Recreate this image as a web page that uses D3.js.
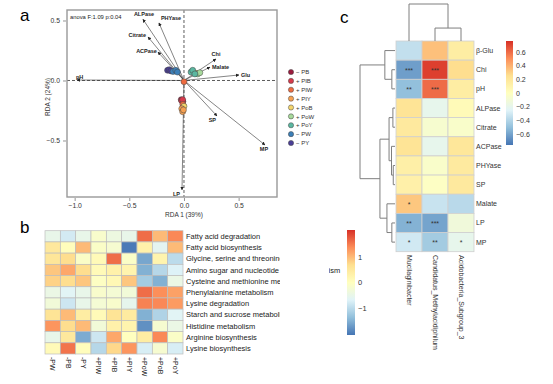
<!DOCTYPE html>
<html>
<head>
<meta charset="utf-8">
<script src="https://cdn.jsdelivr.net/npm/d3@7"></script>
<style>
  body { margin: 0; background: #fff; }
  text { font-family: "Liberation Sans", Arial, sans-serif; }
</style>
</head>
<body>
<script>
// ---------- panel a data (RDA) ----------
const groups = ['-PB', '+PIB', '+PIW', '+PIY', '+PoB', '+PoW', '+PoY', '-PW', '-PY'];
const groupLabels = ['\u2212 PB', '+ PIB', '+ PIW', '+ PIY', '+ PoB', '+ PoW', '+ PoY', '\u2212 PW', '\u2212 PY'];
const groupColors = ['#9b1b3e', '#d83a4b', '#ee6b40', '#f6a152', '#f3d56c', '#a7d99b', '#5bb7a0', '#3b7fb8', '#4a3e97'];

const sampleGroup = ['-PY', '-PY', '-PY', '-PW', '-PW', '-PW', '+PoB', '+PoW', '+PoW', '+PoY', '+PoY', '+PoY',
                     '-PB', '-PB', '+PIB', '+PIB', '+PIW', '+PoB', '+PIY', '+PIY', '+PIY', '+PIW'];
const sampleRDA1 = [-0.15, -0.135, -0.12, -0.1, -0.075, -0.06, 0.11, 0.125, 0.145, 0.065, 0.08, 0.1,
                    -0.025, -0.01, -0.02, -0.012, -0.01, 0.0, -0.02, -0.012, -0.005, 0.0];
const sampleRDA2 = [0.085, 0.09, 0.08, 0.075, 0.085, 0.07, 0.06, 0.055, 0.065, 0.07, 0.085, 0.055,
                    -0.16, -0.175, -0.17, -0.16, -0.2, -0.215, -0.235, -0.26, -0.245, -0.01];

const envVars = ['ALPase', 'PHYase', 'Citrate', 'ACPase', 'pH', 'Chi', 'Malate', 'Glu', 'SP', 'MP', 'LP'];
const envRDA1 = [-0.375, -0.229, -0.329, -0.238, -0.979, 0.293, 0.238, 0.503, 0.302, 0.741, -0.018];
const envRDA2 = [0.51, 0.48, 0.363, 0.237, 0.004, 0.179, 0.112, 0.046, -0.296, -0.537, -0.912];

const xTicks = [-1.0, -0.5, 0.0, 0.5];
const yTicks = [-0.5, 0.0, 0.5];

// ---------- panel b data (KEGG pathway z-scores) ----------
const pathways = ['Fatty acid degradation', 'Fatty acid biosynthesis', 'Glycine, serine and threonine metabolism',
  'Amino sugar and nucleotide sugar metabolism', 'Cysteine and methionine metabolism', 'Phenylalanine metabolism',
  'Lysine degradation', 'Starch and sucrose metabolism', 'Histidine metabolism', 'Arginine biosynthesis',
  'Lysine biosynthesis'];
const treatments = ['-PW', '-PB', '-PY', '+PIW', '+PIB', '+PIY', '+PoW', '+PoB', '+PoY'];
const pathwayZ = [
  [-0.5, -0.8, -0.5, -0.15, -0.4, -0.5, 1.6, 1.0, 1.4],
  [0.5, 0.05, 1.0, -0.1, -0.2, -2.0, 0.3, -0.6, 1.0],
  [0.55, 0.7, -0.1, 0.1, 1.6, -0.1, -1.6, 0.25, -1.0],
  [0.9, 1.15, 0.7, 0.1, 0.3, 0.25, -1.5, -1.05, -0.7],
  [0.8, 0.7, 0.9, -0.05, 0.15, 0.9, -1.2, -1.5, -0.45],
  [-0.45, -0.65, -0.5, -0.15, -0.25, -0.3, 1.6, 1.35, 1.2],
  [-0.3, -0.85, -0.5, -0.25, -0.15, -0.55, 1.45, 1.4, 1.25],
  [0.6, 1.0, 0.4, 0.1, 0.6, 0.45, -1.5, -1.1, -0.65],
  [1.3, 0.7, 1.0, -0.3, 0.3, 0.25, -1.8, -0.2, -0.45],
  [-0.5, 0.5, -1.55, -0.85, 1.15, 0.0, 0.4, 1.4, -0.1],
  [0.1, 1.55, 0.05, -1.05, 0.75, 1.3, -0.75, -0.2, -0.75]
];
const bLegendTicks = [-1, 0, 1];

// ---------- panel c data (correlations) ----------
const soilVars = ['\u03b2-Glu', 'Chi', 'pH', 'ALPase', 'Citrate', 'ACPase', 'PHYase', 'SP', 'Malate', 'LP', 'MP'];
const genera = ['Mucilaginibacter', 'Candidatus_Methylacidiphilum', 'Acidobacteria_Subgroup_3'];
const corr = [
  [-0.35, 0.35, 0.15],
  [-0.62, 0.72, 0.26],
  [-0.5, 0.6, 0.15],
  [0.22, -0.2, 0.04],
  [0.18, -0.07, -0.05],
  [0.22, -0.2, 0.2],
  [0.13, -0.05, 0.17],
  [0.12, -0.02, 0.18],
  [0.33, -0.33, -0.38],
  [-0.55, -0.6, -0.12],
  [-0.3, -0.45, -0.2]
];
const stars = [
  ['', '', ''], ['***', '***', ''], ['**', '***', ''], ['', '', ''], ['', '', ''], ['', '', ''],
  ['', '', ''], ['', '', ''], ['*', '', ''], ['**', '***', ''], ['*', '**', '*']
];
const cLegendTicks = [-0.6, -0.4, -0.2, 0, 0.2, 0.4, 0.6];
// clustering (merge heights, 0..1)
const rowTree = { h: 1, children: [
  { h: 0.29, children: ['\u03b2-Glu', { h: 0.09, children: ['Chi', 'pH'] }] },
  { h: 0.43, children: [
    { h: 0.17, children: [{ h: 0.06, children: ['ALPase', 'Citrate'] },
                          { h: 0.1, children: ['ACPase', { h: 0.05, children: ['PHYase', 'SP'] }] }] },
    { h: 0.23, children: ['Malate', { h: 0.09, children: ['LP', 'MP'] }] }
  ] }
] };
const colTree = { h: 1, children: ['Mucilaginibacter',
  { h: 0.35, children: ['Candidatus_Methylacidiphilum', 'Acidobacteria_Subgroup_3'] }] };

const palette = ['#4575B4', '#91BFDB', '#E0F3F8', '#FFFFBF', '#FEE090', '#FC8D59', '#D73027'];

const svg = d3.select('body').append('svg')
    .attr('width', 553)
    .attr('height', 384);

// =============== panel a ===============
(() => {
    const x = d3.scaleLinear().domain([-1.07, 0.851]).range([67, 277]);
    const y = d3.scaleLinear().domain([-0.971, 0.5875]).range([197, 10]);
    const g = svg.append('g');

    svg.append('text').attr('x', 20).attr('y', 21).attr('font-size', 17).text('a');

    const defs = svg.append('defs');
    defs.append('marker')
        .attr('id', 'arr')
        .attr('viewBox', '0 0 10 10')
        .attr('refX', 9).attr('refY', 5)
        .attr('markerWidth', 3.5).attr('markerHeight', 3.5)
        .attr('markerUnits', 'userSpaceOnUse')
        .attr('orient', 'auto')
        .append('path').attr('d', 'M0,0L10,5L0,10z').attr('fill', '#222');

    // dashed zero lines
    g.append('line').attr('x1', x(0)).attr('x2', x(0)).attr('y1', 10).attr('y2', 197)
        .attr('stroke', '#333').attr('stroke-width', 0.8).attr('stroke-dasharray', '3,2');
    g.append('line').attr('x1', 67).attr('x2', 277).attr('y1', y(0)).attr('y2', y(0))
        .attr('stroke', '#333').attr('stroke-width', 0.8).attr('stroke-dasharray', '3,2');

    // env arrows
    const labelPos = {
        ALPase: [1, -3, 'middle'], PHYase: [2, -3, 'start'], Citrate: [-2, 0, 'end'],
        ACPase: [-1, 1, 'end'], pH: [-1, -1, 'start'], Chi: [0, -3, 'middle'],
        Malate: [2, 2, 'start'], Glu: [2, 2.5, 'start'], SP: [-1, 6, 'end'],
        MP: [-1, 6, 'middle'], LP: [-2, 6, 'end']
    };
    envVars.forEach((v, i) => {
        g.append('line')
            .attr('x1', x(0)).attr('y1', y(0))
            .attr('x2', x(envRDA1[i])).attr('y2', y(envRDA2[i]))
            .attr('stroke', '#333').attr('stroke-width', 0.6)
            .attr('marker-end', 'url(#arr)');
        const p = labelPos[v];
        g.append('text')
            .attr('x', x(envRDA1[i]) + p[0]).attr('y', y(envRDA2[i]) + p[1])
            .attr('text-anchor', p[2])
            .attr('font-size', 5.5).attr('font-weight', 'bold').attr('fill', '#222')
            .text(v);
    });

    // samples
    const col = d3.scaleOrdinal().domain(groups).range(groupColors);
    g.selectAll('circle.s')
        .data(sampleGroup)
        .enter()
        .append('circle')
        .attr('class', 's')
        .attr('cx', (d, i) => x(sampleRDA1[i]))
        .attr('cy', (d, i) => y(sampleRDA2[i]))
        .attr('r', 3)
        .attr('fill', d => col(d))
        .attr('stroke', '#444').attr('stroke-width', 0.5);

    g.append('text').attr('x', 70).attr('y', 19).attr('font-size', 5.8).attr('fill', '#222')
        .text('anova F:1.09 p:0.04');

    // frame
    g.append('rect').attr('x', 67).attr('y', 10).attr('width', 210).attr('height', 187)
        .attr('fill', 'none').attr('stroke', '#999').attr('stroke-width', 1.4);

    const xAxis = d3.axisBottom(x).tickValues(xTicks).tickFormat(d3.format('.1f')).tickSize(3);
    const yAxis = d3.axisLeft(y).tickValues(yTicks).tickFormat(d3.format('.1f')).tickSize(3);
    const xg = g.append('g').attr('transform', 'translate(0,198)').call(xAxis);
    const yg = g.append('g').attr('transform', 'translate(66,0)').call(yAxis);
    [xg, yg].forEach(a => {
        a.select('.domain').remove();
        a.selectAll('line').attr('stroke', '#666').attr('stroke-width', 0.7);
        a.selectAll('text').attr('font-size', 6.8).attr('fill', '#333').attr('font-family', 'Liberation Sans, Arial, sans-serif');
    });
    xg.selectAll('text').attr('dy', '0.6em');

    g.append('text').attr('x', x(0)).attr('y', 217).attr('text-anchor', 'middle')
        .attr('font-size', 6.5).attr('fill', '#333').text('RDA 1 (39%)');
    g.append('text').attr('transform', 'translate(50,97) rotate(-90)').attr('text-anchor', 'middle')
        .attr('font-size', 6.5).attr('fill', '#333').text('RDA 2 (24%)');

    // legend
    const lg = svg.append('g');
    const ly = d3.scalePoint().domain(groups).range([72, 143]);
    groups.forEach((k, i) => {
        lg.append('circle').attr('cx', 291).attr('cy', ly(k)).attr('r', 2.6)
            .attr('fill', groupColors[i]).attr('stroke', '#444').attr('stroke-width', 0.5);
        lg.append('text').attr('x', 296).attr('y', ly(k) + 2.2)
            .attr('font-size', 6).attr('fill', '#333').text(groupLabels[i]);
    });
})();

// =============== panel b ===============
(() => {
    svg.append('text').attr('x', 20).attr('y', 233).attr('font-size', 17).text('b');
    const x = d3.scaleBand().domain(treatments).range([45, 183]);
    const y = d3.scaleBand().domain(pathways).range([230.7, 354]);
    const color = d3.scaleLinear()
        .domain(d3.range(7).map(i => -2.05 + i * 4.1 / 6))
        .range(palette);
    const g = svg.append('g');
    pathways.forEach((p, r) => {
        treatments.forEach((t, c) => {
            g.append('rect')
                .attr('x', x(t)).attr('y', y(p))
                .attr('width', x.bandwidth()).attr('height', y.bandwidth())
                .attr('fill', color(pathwayZ[r][c]))
                .attr('stroke', '#bdbdbd').attr('stroke-width', 0.7);
        });
        g.append('text').attr('x', 186).attr('y', y(p) + y.bandwidth() / 2 + 2.6)
            .attr('font-size', 7.5).attr('fill', '#222').text(p);
    });
    treatments.forEach(t => {
        g.append('text')
            .attr('transform', `translate(${x(t) + x.bandwidth() / 2 - 2.5},357) rotate(90)`)
            .attr('font-size', 7).attr('fill', '#222').text(t);
    });

    // panel c area covers the long labels
    svg.append('rect').attr('x', 280).attr('y', 222).attr('width', 49).attr('height', 162).attr('fill', '#fff');

    // colour key
    const ky = d3.scaleLinear().domain([-2.05, 2.05]).range([335, 230]);
    const grad = svg.append('defs').append('linearGradient').attr('id', 'gb')
        .attr('x1', 0).attr('y1', 1).attr('x2', 0).attr('y2', 0);
    palette.forEach((c, i) => grad.append('stop').attr('offset', i / 6).attr('stop-color', c));
    svg.append('rect').attr('x', 347).attr('y', 230).attr('width', 8).attr('height', 105).attr('fill', 'url(#gb)');
    const kg = svg.append('g').attr('transform', 'translate(355,0)')
        .call(d3.axisRight(ky).tickValues(bLegendTicks).tickFormat(d3.format('d')).tickSize(0));
    kg.select('.domain').remove();
    kg.selectAll('text').attr('font-size', 7.5).attr('fill', '#333').attr('x', 3)
        .attr('font-family', 'Liberation Sans, Arial, sans-serif');
})();

// =============== panel c ===============
(() => {
    svg.append('text').attr('x', 340).attr('y', 23).attr('font-size', 17).text('c');
    const x = d3.scaleBand().domain(genera).range([396, 474]);
    const y = d3.scaleBand().domain(soilVars).range([41, 251.7]);
    const color = d3.scaleLinear()
        .domain(d3.range(7).map(i => -0.76 + i * 1.52 / 6))
        .range(palette);
    const g = svg.append('g');
    soilVars.forEach((s, r) => {
        genera.forEach((gname, c) => {
            g.append('rect')
                .attr('x', x(gname)).attr('y', y(s))
                .attr('width', x.bandwidth()).attr('height', y.bandwidth())
                .attr('fill', color(corr[r][c]))
                .attr('stroke', '#cfcfcf').attr('stroke-width', 0.8);
            if (stars[r][c]) {
                g.append('text')
                    .attr('x', x(gname) + x.bandwidth() / 2).attr('y', y(s) + y.bandwidth() / 2 + 3)
                    .attr('text-anchor', 'middle').attr('font-size', 7).attr('fill', '#333')
                    .text(stars[r][c]);
            }
        });
        g.append('text').attr('x', 476).attr('y', y(s) + y.bandwidth() / 2 + 2.5)
            .attr('font-size', 7).attr('fill', '#333').text(s);
    });
    genera.forEach(gname => {
        g.append('text')
            .attr('transform', `translate(${x(gname) + x.bandwidth() / 2 - 2.5},255) rotate(90)`)
            .attr('font-size', 7).attr('fill', '#333').text(gname);
    });

    // dendrograms
    const rowH = d3.scaleLinear().domain([0, 1]).range([395, 360]);
    const colH = d3.scaleLinear().domain([0, 1]).range([41, 4]);
    const dg = svg.append('g').attr('stroke', '#7f7f7f').attr('stroke-width', 1).attr('fill', 'none');
    function drawRow(node) {
        if (typeof node === 'string') return { pos: y(node) + y.bandwidth() / 2, h: 0 };
        const kids = node.children.map(drawRow);
        const xh = rowH(node.h);
        kids.forEach(k => dg.append('path').attr('d', `M${rowH(k.h)},${k.pos}H${xh}`));
        dg.append('path').attr('d', `M${xh},${kids[0].pos}V${kids[1].pos}`);
        return { pos: (kids[0].pos + kids[1].pos) / 2, h: node.h };
    }
    function drawCol(node) {
        if (typeof node === 'string') return { pos: x(node) + x.bandwidth() / 2, h: 0 };
        const kids = node.children.map(drawCol);
        const yh = colH(node.h);
        kids.forEach(k => dg.append('path').attr('d', `M${k.pos},${colH(k.h)}V${yh}`));
        dg.append('path').attr('d', `M${kids[0].pos},${yh}H${kids[1].pos}`);
        return { pos: (kids[0].pos + kids[1].pos) / 2, h: node.h };
    }
    drawRow(rowTree);
    drawCol(colTree);

    // colour key
    const ky = d3.scaleLinear().domain([-0.76, 0.76]).range([145, 41]);
    const grad = svg.append('defs').append('linearGradient').attr('id', 'gc')
        .attr('x1', 0).attr('y1', 1).attr('x2', 0).attr('y2', 0);
    palette.forEach((c, i) => grad.append('stop').attr('offset', i / 6).attr('stop-color', c));
    svg.append('rect').attr('x', 506).attr('y', 41).attr('width', 7).attr('height', 104).attr('fill', 'url(#gc)');
    const kg = svg.append('g').attr('transform', 'translate(513,0)')
        .call(d3.axisRight(ky).tickValues(cLegendTicks).tickFormat(d => d === 0 ? '0' : d3.format('.1f')(d)).tickSize(0));
    kg.select('.domain').remove();
    kg.selectAll('text').attr('font-size', 7).attr('fill', '#333').attr('x', 3)
        .attr('font-family', 'Liberation Sans, Arial, sans-serif');
})();
</script>
</body>
</html>
